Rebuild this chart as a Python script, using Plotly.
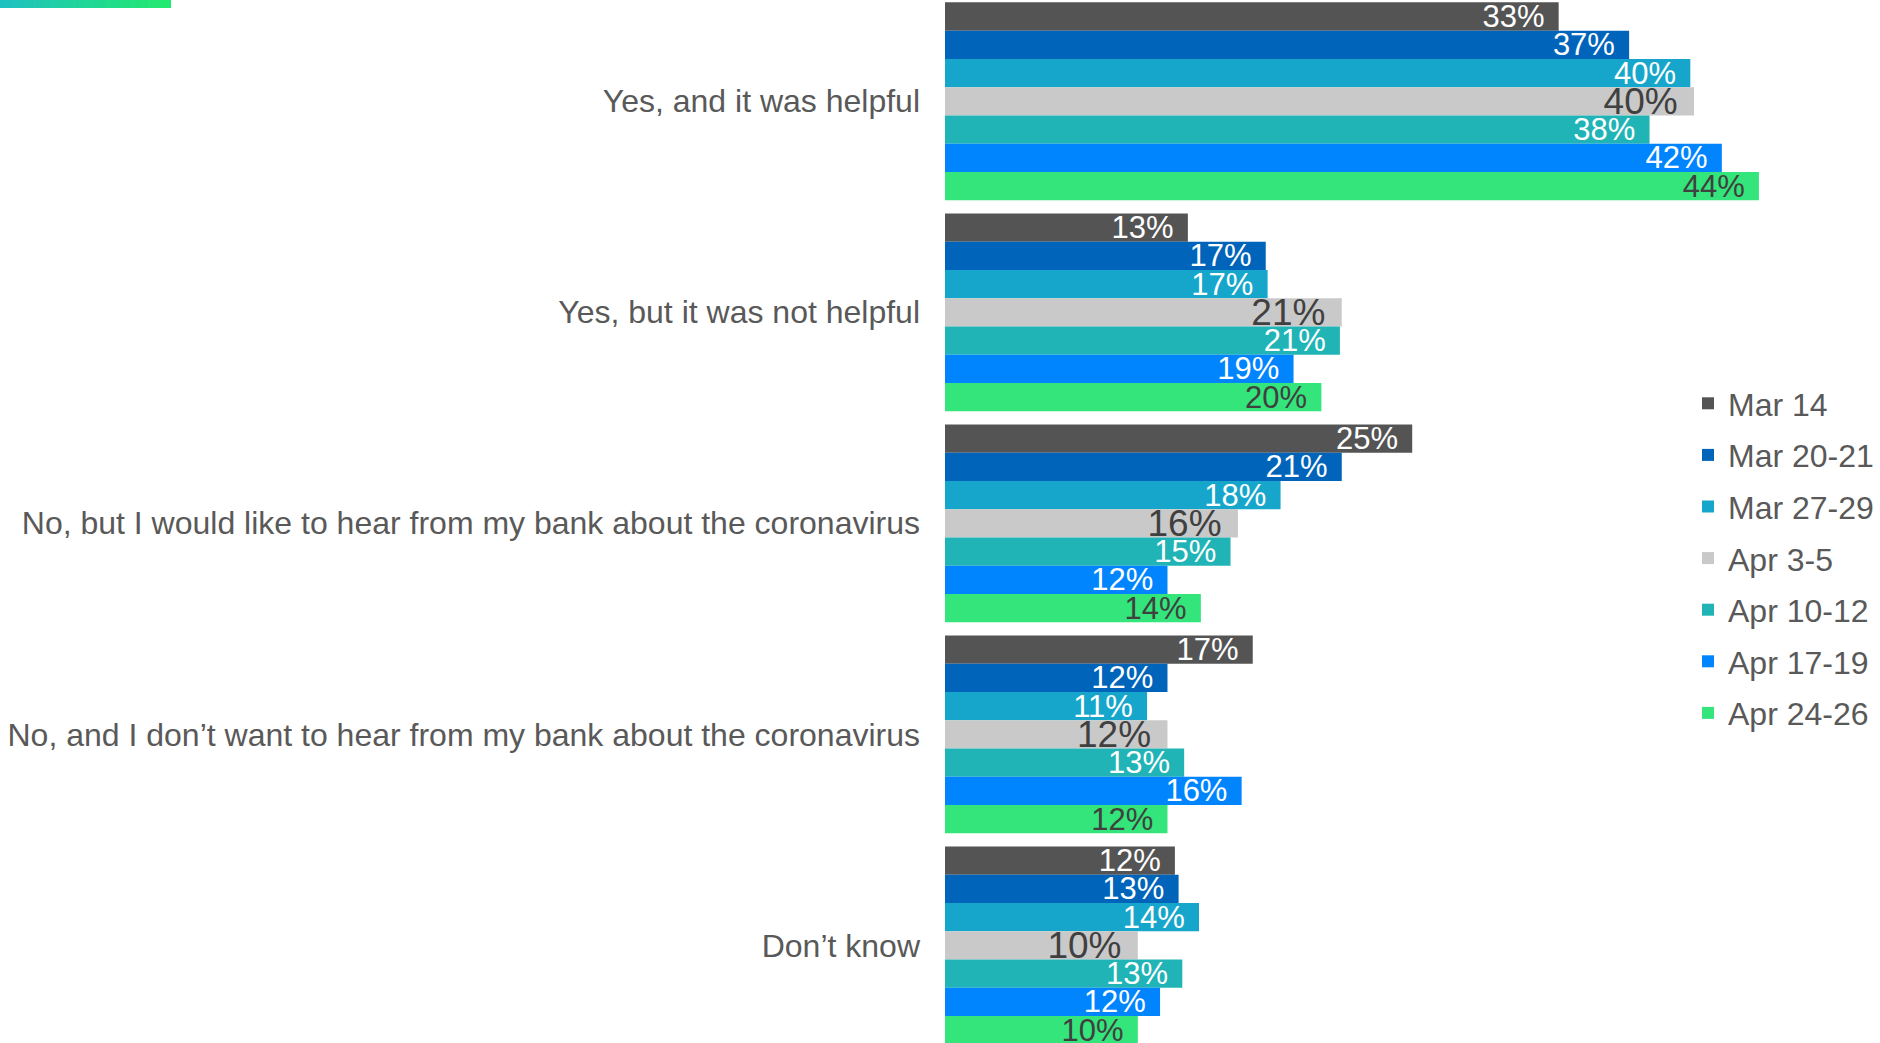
import plotly.graph_objects as go

categories = [
    "Yes, and it was helpful",
    "Yes, but it was not helpful",
    "No, but I would like to hear from my bank about the coronavirus",
    "No, and I don\u2019t want to hear from my bank about the coronavirus",
    "Don\u2019t know",
]
series_names = ["Mar 14", "Mar 20-21", "Mar 27-29", "Apr 3-5", "Apr 10-12", "Apr 17-19", "Apr 24-26"]
mar_14 = [33.1, 13.1, 25.2, 16.6, 12.4]
mar_20_21 = [36.9, 17.3, 21.4, 12.0, 12.6]
mar_27_29 = [40.2, 17.4, 18.1, 10.9, 13.7]
apr_3_5 = [40.4, 21.4, 15.8, 12.0, 10.4]
apr_10_12 = [38.0, 21.3, 15.4, 12.9, 12.8]
apr_17_19 = [41.9, 18.8, 12.0, 16.0, 11.6]
apr_24_26 = [43.9, 20.3, 13.8, 12.0, 10.4]
series_values = [mar_14, mar_20_21, mar_27_29, apr_3_5, apr_10_12, apr_17_19, apr_24_26]

colors = ["#545454", "#0064BA", "#17A6CB", "#C9C9C9", "#20B4B6", "#0085FF", "#33E57A"]
text_colors = ["#FFFFFF", "#FFFFFF", "#FFFFFF", "#404040", "#FFFFFF", "#FFFFFF", "#404040"]
text_sizes = [31, 31, 31, 37, 31, 31, 31]

W, H = 1880, 1043
L = 945
plot_w = W - L

fig = go.Figure()
ypos = list(range(len(categories)))
for name, vals, c, tc, ts in zip(series_names, series_values, colors, text_colors, text_sizes):
    fig.add_trace(go.Bar(
        name=name, legendgroup=name, x=vals, y=ypos, orientation="h",
        marker=dict(color=c, line=dict(width=0)),
        texttemplate="%{x:.0f}%\u00a0\u200a", textposition="inside", insidetextanchor="end",
        textangle=0, constraintext="none",
        textfont=dict(family="Liberation Sans, Arial", size=ts, color=tc),
        cliponaxis=False,
    ))

# decorative gradient line at top-left
n = 30
c0 = (31, 193, 192)
c1 = (34, 234, 110)
x_start, x_end = 0, 171
for i in range(n):
    t = i / (n - 1)
    col = "rgb(%d,%d,%d)" % tuple(round(a + (b - a) * t) for a, b in zip(c0, c1))
    xa = x_start + (x_end - x_start) * i / n
    xb = x_start + (x_end - x_start) * (i + 1) / n + 0.6
    fig.add_shape(type="rect", xref="paper", yref="paper",
                  x0=(xa - L) / plot_w, x1=(min(xb, x_end) - L) / plot_w,
                  y0=1 - 8 / H, y1=1.0, fillcolor=col, line=dict(width=0), layer="above")

fig.update_layout(
    width=W, height=H,
    margin=dict(l=L, r=0, t=0, b=0),
    paper_bgcolor="white", plot_bgcolor="white",
    barmode="group", bargap=0.0625, bargroupgap=0,
    font=dict(family="Liberation Sans, Arial", color="#595959"),
    xaxis=dict(range=[0, plot_w / 18.54], visible=False, showgrid=False, zeroline=False),
    yaxis=dict(range=[4.463, -0.48], tickmode="array", tickvals=ypos, ticktext=categories,
               showgrid=False, zeroline=False, showline=False, ticks="",
               tickfont=dict(size=32, color="#595959"), ticklabelstandoff=24),
    legend=dict(x=(1688 - L) / plot_w, y=1 - 376 / H, xanchor="left", yanchor="top",
                font=dict(size=32, color="#595959"), tracegroupgap=7,
                bgcolor="rgba(0,0,0,0)", borderwidth=0),
    showlegend=True,
)

fig.write_html("out.html", config={"displayModeBar": False},
               post_script="document.body.style.margin='0';")
